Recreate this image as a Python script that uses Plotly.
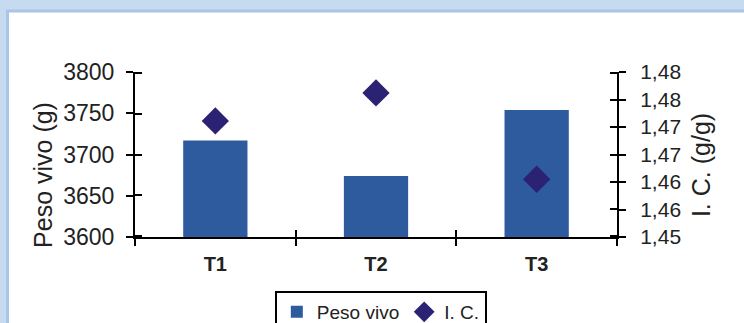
import plotly.graph_objects as go

# Treatments and measured values
treatments = ["T1", "T2", "T3"]
peso_vivo = [3717, 3674, 3754]          # live weight (g)
indice_conversion = [1.4711, 1.4762, 1.4605]  # feed conversion (g/g)

# Right-axis labels (two decimals, comma as decimal mark)
ic_ticks = [1.450, 1.455, 1.460, 1.465, 1.470, 1.475, 1.480]
ic_ticktext = ["1,45", "1,46", "1,46", "1,47", "1,47", "1,48", "1,48"]

FONT = "Arial, Liberation Sans, sans-serif"
TXT = "#222222"
BAR = "#2e5a9e"
DIAM = "#2b2273"

fig = go.Figure()
fig.add_trace(go.Bar(
    x=treatments, y=peso_vivo, name="Peso vivo",
    marker=dict(color=BAR, line=dict(width=0)), width=0.4,
))
fig.add_trace(go.Scatter(
    x=treatments, y=indice_conversion, name="I. C.", yaxis="y2",
    mode="markers", marker=dict(symbol="diamond", size=21, color=DIAM),
))
# mark-less copies on twin subplots (same domain), which carry the
# inner half of the cross-style ticks
fig.add_trace(go.Scatter(x=treatments, y=peso_vivo, xaxis="x2", yaxis="y3",
                         mode="none", showlegend=False, hoverinfo="skip"))
fig.add_trace(go.Scatter(x=treatments, y=indice_conversion, xaxis="x3",
                         yaxis="y4", mode="none", showlegend=False,
                         hoverinfo="skip"))

axis_common = dict(showgrid=False, zeroline=False, tickcolor="black",
                   tickwidth=2, ticklen=7)
cat_axis = dict(type="category", categoryorder="array",
                categoryarray=treatments, range=[-0.5, 2.5])

# twin ranges padded by a hair so the end ticks are not clipped
pw_range = [3600, 3800]
ic_range = [1.45, 1.48]
pw_pad = 1.5
ic_pad = 0.00027

fig.update_layout(
    width=744, height=323,
    margin=dict(l=135, r=127, t=72, b=86, autoexpand=False),
    paper_bgcolor="#c6daf0",
    plot_bgcolor="rgba(0,0,0,0)",
    font=dict(family=FONT, color=TXT),
    showlegend=True,
    legend=dict(
        orientation="h", x=0.51, xanchor="center", y=-0.327, yanchor="top",
        bordercolor="black", borderwidth=2, bgcolor="white",
        font=dict(size=19, color=TXT), itemclick=False,
    ),
    xaxis=dict(
        domain=[0, 1], tickson="boundaries", ticks="outside",
        showline=True, linecolor="black", linewidth=2,
        tickfont=dict(size=20, weight="bold", color=TXT),
        ticklabelstandoff=8, **cat_axis, **axis_common,
    ),
    yaxis=dict(
        domain=[0, 1], range=pw_range, dtick=50, ticks="outside",
        showline=True, linecolor="black", linewidth=2,
        tickfont=dict(size=23, color=TXT), ticklabelstandoff=7,
        **axis_common,
    ),
    yaxis2=dict(
        overlaying="y", side="right", anchor="x", range=ic_range,
        tickvals=ic_ticks, ticktext=ic_ticktext, ticks="outside",
        showline=True, linecolor="black", linewidth=2,
        tickfont=dict(size=21, color=TXT), ticklabelstandoff=10,
        **axis_common,
    ),
    # twin subplot: inner ticks on the bottom and left axes
    xaxis2=dict(
        domain=[0, 1], anchor="y3", tickson="boundaries", ticks="inside",
        showticklabels=False, showline=False, **cat_axis, **axis_common,
    ),
    yaxis3=dict(
        domain=[0, 1], anchor="x2", side="left",
        range=[pw_range[0] - pw_pad, pw_range[1] + pw_pad],
        tick0=3600, dtick=50, ticks="inside", showticklabels=False,
        showline=False, **axis_common,
    ),
    # twin subplot: inner ticks on the right axis
    xaxis3=dict(domain=[0, 1], anchor="y4", visible=False, **cat_axis),
    yaxis4=dict(
        domain=[0, 1], anchor="x3", side="right",
        range=[ic_range[0] - ic_pad, ic_range[1] + ic_pad],
        tickvals=ic_ticks, ticks="inside", showticklabels=False,
        showline=False, **axis_common,
    ),
    shapes=[
        # white card on the light-blue page, with its darker blue edge
        dict(type="rect", xref="paper", yref="paper", layer="below",
             x0=-0.2645, x1=1.35, y0=-0.7, y1=1.37,
             fillcolor="white", line=dict(color="#a9c6e9", width=3)),
    ],
    annotations=[
        dict(text="Peso vivo (g)", xref="paper", yref="paper",
             x=-0.1909, y=0.376, textangle=-90, showarrow=False,
             xanchor="center", yanchor="middle",
             font=dict(size=25, color=TXT, family=FONT)),
        dict(text="I. C. (g/g)", xref="paper", yref="paper",
             x=1.1743, y=0.436, textangle=-90, showarrow=False,
             xanchor="center", yanchor="middle",
             font=dict(size=25, color=TXT, family=FONT)),
    ],
)

fig.write_html("out.html")
